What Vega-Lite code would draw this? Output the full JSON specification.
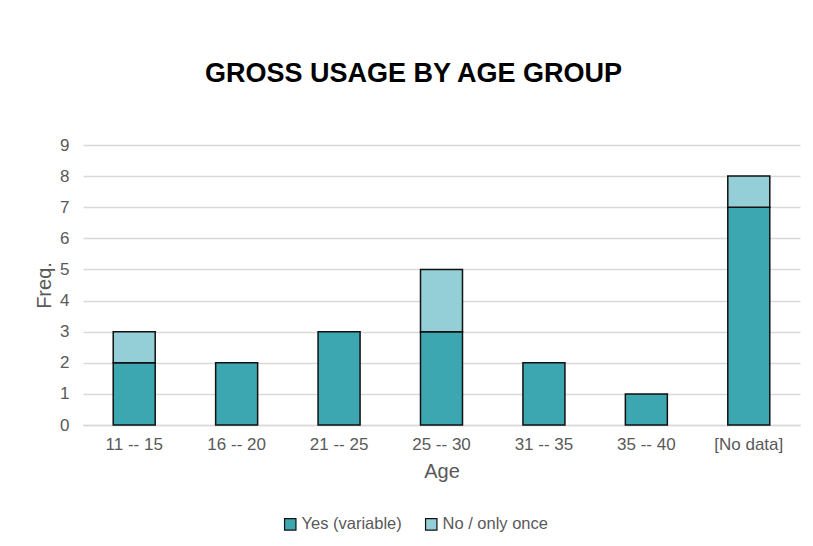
{
  "$schema": "https://vega.github.io/schema/vega-lite/v6.json",
  "autosize": {"type": "none"},
  "width": 717,
  "height": 280,
  "padding": {"left": 83, "top": 145, "right": 13, "bottom": 121},
  "background": "white",
  "title": {
    "text": "GROSS USAGE BY AGE GROUP",
    "font": "Liberation Sans",
    "fontSize": 27,
    "fontWeight": "bold",
    "color": "#000000",
    "anchor": "middle",
    "dx": -28,
    "offset": 48
  },
  "data": {
    "values": [
      {"age": "11 -- 15", "usage": "Yes (variable)", "freq": 2},
      {"age": "11 -- 15", "usage": "No / only once", "freq": 1},
      {"age": "16 -- 20", "usage": "Yes (variable)", "freq": 2},
      {"age": "21 -- 25", "usage": "Yes (variable)", "freq": 3},
      {"age": "25 -- 30", "usage": "Yes (variable)", "freq": 3},
      {"age": "25 -- 30", "usage": "No / only once", "freq": 2},
      {"age": "31 -- 35", "usage": "Yes (variable)", "freq": 2},
      {"age": "35 -- 40", "usage": "Yes (variable)", "freq": 1},
      {"age": "[No data]", "usage": "Yes (variable)", "freq": 7},
      {"age": "[No data]", "usage": "No / only once", "freq": 1}
    ]
  },
  "transform": [
    {"calculate": "datum.usage === 'Yes (variable)' ? 0 : 1", "as": "stackOrder"}
  ],
  "mark": {"type": "bar", "stroke": "#111111", "strokeWidth": 1.5},
  "encoding": {
    "x": {
      "field": "age",
      "type": "nominal",
      "sort": null,
      "scale": {"paddingInner": 0.59, "paddingOuter": 0.295},
      "axis": {
        "title": "Age",
        "labelAngle": 0,
        "ticks": false,
        "domain": true,
        "domainColor": "#d9d9d9",
        "domainWidth": 1.5,
        "labelPadding": 11,
        "titlePadding": 9
      }
    },
    "y": {
      "field": "freq",
      "type": "quantitative",
      "stack": "zero",
      "scale": {"domain": [0, 9], "nice": false},
      "axis": {
        "title": "Freq.",
        "values": [0, 1, 2, 3, 4, 5, 6, 7, 8, 9],
        "ticks": false,
        "domain": false,
        "grid": true,
        "gridColor": "#d9d9d9",
        "gridWidth": 1.5,
        "labelPadding": 14,
        "titlePadding": 5
      }
    },
    "color": {
      "field": "usage",
      "type": "nominal",
      "scale": {
        "domain": ["Yes (variable)", "No / only once"],
        "range": ["#3ca7b0", "#94cfd7"]
      },
      "legend": {
        "title": null,
        "orient": "none",
        "direction": "horizontal",
        "legendX": 199,
        "legendY": 371,
        "symbolType": "square",
        "symbolSize": 130,
        "symbolStrokeColor": "#111111",
        "symbolStrokeWidth": 1.2,
        "symbolOpacity": 1,
        "labelFont": "Liberation Sans",
        "labelFontSize": 16.5,
        "labelColor": "#595959",
        "labelOffset": 3,
        "columnPadding": 21
      }
    },
    "order": {"field": "stackOrder", "type": "quantitative"}
  },
  "config": {
    "view": {"stroke": null},
    "axis": {
      "labelFont": "Liberation Sans",
      "labelFontSize": 17,
      "labelColor": "#595959",
      "titleFont": "Liberation Sans",
      "titleFontSize": 20,
      "titleFontWeight": "normal",
      "titleColor": "#595959"
    }
  }
}
